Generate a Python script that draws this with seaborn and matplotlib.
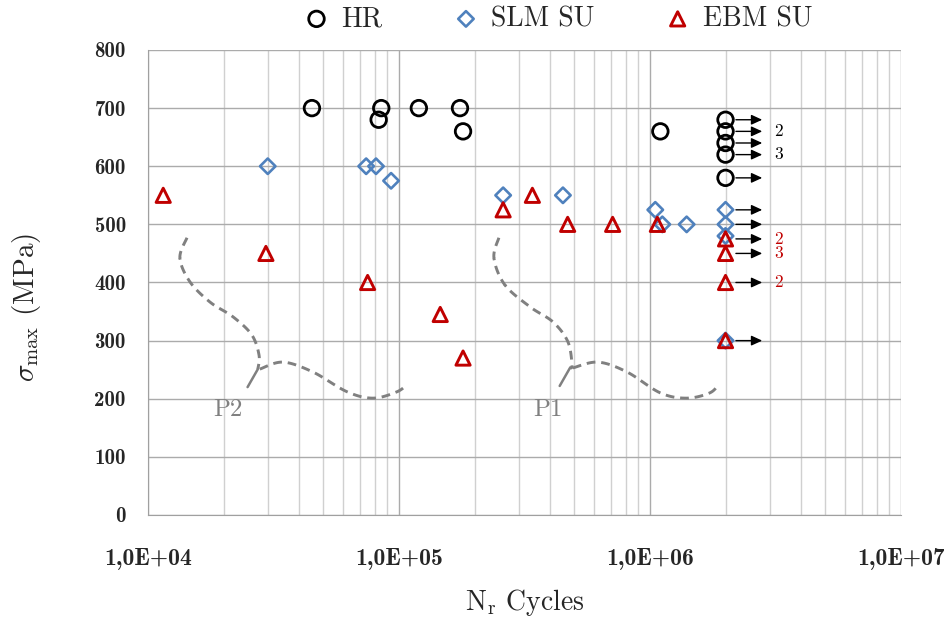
import numpy as np
import pandas as pd
import seaborn as sns
import matplotlib.pyplot as plt
from matplotlib.ticker import FuncFormatter, LogLocator, MultipleLocator

# Datos (ciclos a rotura, tension maxima en MPa)
hr_ciclos = [4.5e4, 8.5e4, 8.3e4, 1.2e5, 1.75e5, 1.8e5, 1.1e6, 2e6, 2e6, 2e6, 2e6, 2e6]
hr_tension = [700, 700, 680, 700, 700, 660, 660, 680, 660, 640, 620, 580]

slm_ciclos = [3e4, 7.4e4, 8.1e4, 9.3e4, 2.6e5, 4.5e5, 1.05e6, 1.12e6, 1.4e6, 2e6, 2e6, 2e6, 2e6]
slm_tension = [600, 600, 600, 575, 550, 550, 525, 500, 500, 525, 500, 480, 300]

ebm_ciclos = [1.15e4, 2.95e4, 7.5e4, 1.46e5, 1.8e5, 2.6e5, 3.4e5, 4.7e5, 7.1e5, 1.07e6, 2e6, 2e6, 2e6, 2e6]
ebm_tension = [550, 450, 400, 345, 270, 525, 550, 500, 500, 500, 475, 450, 400, 300]

# Probetas sin rotura (run-outs): nivel de tension de cada flecha
runout_tension = [680, 660, 640, 620, 580, 525, 500, 475, 450, 400, 300]
# Numero de probetas repetidas por nivel
runout_etiquetas = [(660, '2', 'black'), (620, '3', 'black'),
                    (475, '2', '#C00000'), (450, '3', '#C00000'), (400, '2', '#C00000')]

# Llaves discontinuas P2 y P1 (puntos guia)
p2_x = [1.43e4, 1.34e4, 1.47e4, 1.77e4, 2.18e4, 2.59e4, 2.77e4, 2.74e4]
p2_y = [477, 442, 401, 366, 341, 310, 275, 251]
p2b_x = [2.79e4, 3.45e4, 4.54e4, 6.21e4, 7.88e4, 9.82e4, 1.08e5]
p2b_y = [251, 263, 246, 212, 201, 212, 225]
p1_x = [2.50e5, 2.39e5, 2.64e5, 3.33e5, 4.11e5, 4.71e5, 4.89e5, 4.80e5]
p1_y = [477, 442, 396, 358, 332, 298, 258, 253]
p1b_x = [4.93e5, 6.21e5, 8.10e5, 1.10e6, 1.40e6, 1.73e6, 1.88e6]
p1b_y = [253, 263, 246, 210, 201, 210, 225]

ROJO = '#C00000'
AZUL = '#4F81BD'
GRIS = '#808080'

sns.set_style('white')
plt.rcParams['font.family'] = 'cmr10'
plt.rcParams['mathtext.fontset'] = 'cm'
plt.rcParams['axes.unicode_minus'] = False


def suavizar(xs, ys, n=14):
    # Catmull-Rom en espacio log-x, solo para dibujar la llave
    pts = np.column_stack([np.log10(xs), ys])
    pts = np.vstack([pts[0], pts, pts[-1]])
    out = []
    t = np.linspace(0, 1, n)[:, None]
    for i in range(1, len(pts) - 2):
        p0, p1, p2, p3 = pts[i - 1], pts[i], pts[i + 1], pts[i + 2]
        seg = 0.5 * ((2 * p1) + (-p0 + p2) * t + (2 * p0 - 5 * p1 + 4 * p2 - p3) * t ** 2
                     + (-p0 + 3 * p1 - 3 * p2 + p3) * t ** 3)
        out.append(seg)
    out = np.vstack(out)
    return 10 ** out[:, 0], out[:, 1]


fig = plt.figure(figsize=(9.45, 6.18), dpi=100)
ax = fig.add_axes([0.1566, 0.1667, 0.7968, 0.7524])

df_hr = pd.DataFrame({'N': hr_ciclos, 'S': hr_tension})
df_slm = pd.DataFrame({'N': slm_ciclos, 'S': slm_tension})
df_ebm = pd.DataFrame({'N': ebm_ciclos, 'S': ebm_tension})

sns.scatterplot(data=df_hr, x='N', y='S', ax=ax, marker='o', s=125, edgecolor='black',
                facecolor='none', linewidth=2.0, label='HR', zorder=5)
sns.scatterplot(data=df_slm, x='N', y='S', ax=ax, marker='D', s=62, edgecolor=AZUL,
                facecolor='none', linewidth=1.9, label='SLM SU', zorder=6)
sns.scatterplot(data=df_ebm, x='N', y='S', ax=ax, marker='^', s=105, edgecolor=ROJO,
                facecolor='none', linewidth=2.1, label='EBM SU', zorder=7)

# Flechas de run-out
for s in runout_tension:
    ax.annotate('', xy=(2.8e6, s), xytext=(2.2e6, s),
                arrowprops=dict(arrowstyle='-|>,head_length=0.65,head_width=0.3',
                                color='black', lw=1, shrinkA=0, shrinkB=0))
for s, txt, col in runout_etiquetas:
    ax.text(3.25e6, s, txt, color=col, fontsize=12.5, ha='center', va='center')

# Llaves P2 / P1
for xs, ys, xb, yb in [(p2_x, p2_y, p2b_x, p2b_y), (p1_x, p1_y, p1b_x, p1b_y)]:
    cx, cy = suavizar(xs, ys)
    ax.plot(cx, cy, color=GRIS, lw=2.1, linestyle=(0, (3, 2)), zorder=3)
    cx, cy = suavizar(xb, yb)
    ax.plot(cx, cy, color=GRIS, lw=2.1, linestyle=(0, (3, 2)), zorder=3)
    # pequeno trazo de la punta
    ax.plot([xs[-1], xs[-1] * 0.91], [ys[-1], ys[-1] - 31], color=GRIS, lw=1.8, zorder=3)
ax.text(2.08e4, 181, 'P2', color=GRIS, fontsize=18, ha='center', va='center')
ax.text(3.93e5, 181, 'P1', color=GRIS, fontsize=18, ha='center', va='center')

ax.set_xscale('log')
ax.set_xlim(1e4, 1e7)
ax.set_ylim(0, 800)
ax.xaxis.set_major_locator(LogLocator(base=10, numticks=10))
ax.xaxis.set_minor_locator(LogLocator(base=10, subs=np.arange(2, 10), numticks=20))
ax.xaxis.set_major_formatter(FuncFormatter(lambda v, p: f'{v:.1E}'.replace('.', ',')))
ax.xaxis.set_minor_formatter(FuncFormatter(lambda v, p: ''))
ax.yaxis.set_major_locator(MultipleLocator(100))
ax.yaxis.set_minor_locator(MultipleLocator(20))

ax.grid(True, which='major', axis='both', color='#ABABAB', lw=1.0)
ax.grid(True, which='minor', axis='x', color='#D0D0D0', lw=1.0)
ax.set_axisbelow(True)

for lado in ['top', 'right']:
    ax.spines[lado].set_visible(False)
for lado in ['left', 'bottom']:
    ax.spines[lado].set_color('#A0A0A0')
ax.tick_params(axis='both', which='both', direction='out', color='#A0A0A0', width=1)
ax.tick_params(axis='x', which='both', length=12, pad=12)
ax.tick_params(axis='y', which='major', length=8, pad=8)
ax.tick_params(axis='y', which='minor', length=6)
for lab in ax.get_xticklabels():
    lab.set_fontfamily('cmb10')
    lab.set_fontsize(17)
for lab in ax.get_yticklabels():
    lab.set_fontfamily('cmb10')
    lab.set_fontsize(15)

ax.set_xlabel(r'$\mathrm{N_r}$ Cycles', fontsize=20, labelpad=12)
ax.set_ylabel(r'$\sigma_{\mathrm{max}}$ (MPa)', fontsize=21)
ax.yaxis.set_label_coords(-0.14, 0.447)

handles, labels = ax.get_legend_handles_labels()
ax.legend_.remove()
fig.legend(handles, labels, loc='center', bbox_to_anchor=(556 / 945, 1 - 19 / 618),
           ncol=3, frameon=False, fontsize=20, handletextpad=0.3,
           columnspacing=2.4, handlelength=1.2)

fig.savefig('out.png', dpi=100)
